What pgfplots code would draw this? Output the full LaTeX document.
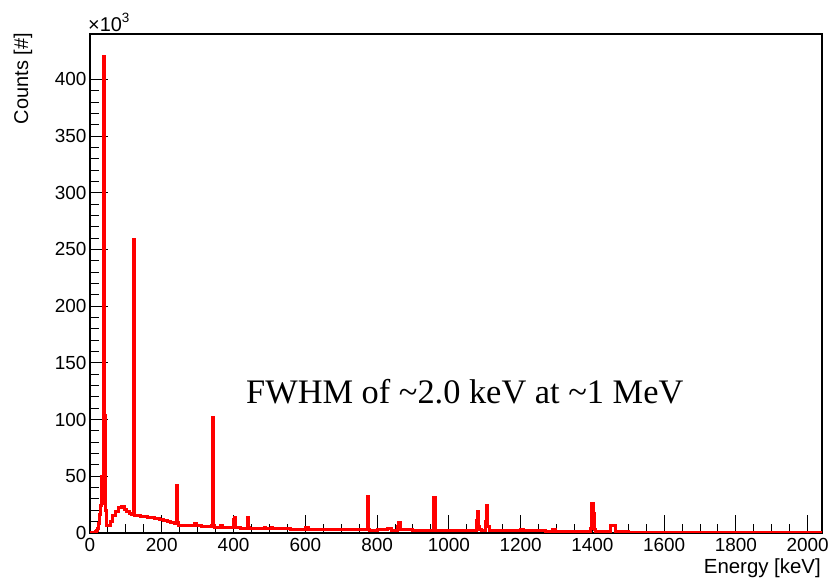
\documentclass[border=0pt]{standalone}
\usepackage{fontspec}
\setmainfont{Liberation Sans}
\newfontfamily\annotfont{Liberation Serif}
\usepackage{pgfplots}
\pgfplotsset{compat=1.18}

% Energy spectrum, counts in units of 10^3 per bin
\pgfplotstableread{
E    C
0    0.3
8    0.5
14   1.0
18   2.0
21   4
24   8
27   16
30   24
33   50
35   26
37   420
41   104
44   20
46   7
56   10
64   15
72   19
80   22.5
88   23
95   20.5
103  19
111  17
116  16
120  259
123  15
140  14.5
160  14
180  13
195  12
205  11
215  10
225  9
235  8.5
240  42
243  9
246  7
260  7
280  6.5
290  8.5
296  6.5
310  6
330  5.8
339  7
341  102
344  7
346  5
360  5.2
365  7
369  5
380  4.8
400  12
403  14
406  5
411  4.5
420  4.3
438  14
441  5
444  4.2
470  4.0
485  5
489  4
500  3.8
505  5
509  3.6
560  3.4
600  5
610  3.0
700  3.2
740  3.0
772  32
776  3.5
780  2.5
800  2.8
830  4.0
840  2.5
856  6
861  9
866  3
900  2.5
920  2.6
958  31
962  2.5
1000 2.3
1050 2.2
1077 11
1079 19
1082 6
1086 3
1090 2.2
1102 10
1105 24
1109 6
1112 2.2
1150 2.0
1200 3
1209 2.0
1250 1.8
1260 2.4
1270 1.6
1290 3
1298 1.4
1310 1.2
1396 4
1399 26
1402 17
1405 3
1408 1.2
1450 6.5
1465 1.0
1500 0.8
2040 0.8
}\spectrum

\begin{document}
\begin{tikzpicture}
\useasboundingbox (-90bp,-46bp) rectangle (742bp,533bp);
\begin{axis}[
  at={(0,0)}, anchor=south west,
  scale only axis, width=732bp, height=499bp,
  xmin=0, xmax=2040, ymin=0, ymax=440,
  axis line style={line width=1.2bp},
  tick style={black, line width=1bp},
  xtick={0,200,...,2000}, minor x tick num=3,
  ytick={0,50,...,400}, minor y tick num=4,
  tickpos=left, tick align=inside,
  major tick length=18bp, minor tick length=9bp,
  scaled ticks=false,
  /pgf/number format/assume math mode=true,
  /pgf/number format/1000 sep={},
  tick label style={font=\fontsize{19}{23}\selectfont},
  xticklabel style={yshift=-2bp},
  clip=true,
]
\addplot[const plot, draw=red, line width=3bp, line join=miter] table[x=E, y=C] {\spectrum};
\end{axis}
\node[anchor=base east, inner sep=0, font=\fontsize{20.5}{24}\selectfont] at (731bp,-40bp) {Energy [keV]};
\node[rotate=90, anchor=east, inner sep=0, font=\fontsize{20}{24}\selectfont] at (-67bp,500bp) {Counts [\#]};
\node[anchor=base west, inner sep=0, font=\fontsize{20}{24}\selectfont] at (-2bp,501.5bp) {×10\raisebox{9bp}{\fontsize{13.5}{16}\selectfont 3}};
\node[anchor=base west, inner sep=0, font=\annotfont\fontsize{34.5}{40}\selectfont] at (156bp,129.7bp) {FWHM of \textasciitilde2.0 keV at \textasciitilde1 MeV};
\end{tikzpicture}
\end{document}
